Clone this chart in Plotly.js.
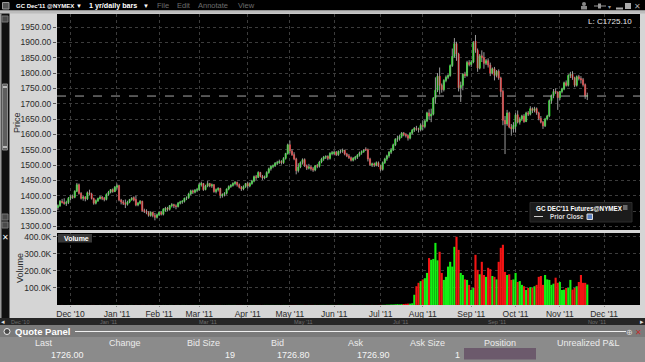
<!DOCTYPE html>
<html><head><meta charset="utf-8">
<script src="https://cdn.plot.ly/plotly-3.0.1.min.js"></script>
<style>html,body{margin:0;padding:0;background:#d4d4d4;overflow:hidden}#chart{width:645px;height:362px}</style>
</head><body><div id="chart"></div>
<script>
// ---------- DATA (GC Dec'11 @NYMEX, 1 yr daily bars) ----------
const firstDay = '2010-11-22';
const lastDay = '2011-11-18';
const holidays = ['2010-11-25','2010-12-24','2011-01-17','2011-02-21','2011-04-22','2011-05-30','2011-07-04','2011-09-05','2011-11-24'];

const openP = [
 1362,1368,1382,1379,1375,1378,
 1392,1398,1395,1415,1436,1408,1392,1396,1390,1410,1406,1391,1376,1384,1391,1396,1392,1388,1404,1412,1420,1414,
 1428,1433,1386,1380,1376,1372,1380,1388,1394,1388,1370,1376,1382,1352,1350,1346,1336,1346,1336,1330,
 1338,1346,1340,1352,1360,1356,1368,1371,1367,1365,1376,1380,1382,1392,1394,1406,1416,1412,1418,
 1420,1436,1440,1420,1432,1440,1432,1436,1414,1420,1424,1400,1404,1408,1422,1430,1434,1440,1444,1436,1428,1422,1430,
 1440,1432,1440,1448,1462,1460,1476,1464,1458,1462,1476,1488,1496,1498,1506,1508,1512,1508,1522,1538,
 1566,1546,1534,1520,1482,1494,1508,1518,1498,1490,1494,1488,1484,1498,1496,1510,1520,1526,1528,1522,1538,
 1538,1542,1534,1544,1546,1548,1536,1530,1524,1516,1522,1526,1532,1540,1544,1552,1550,1520,1500,1504,1500,1508,
 1498,1486,1508,1520,1530,1542,1550,1566,1584,1586,1594,1604,1600,1596,1588,1604,1614,1620,1618,1616,
 1630,1626,1644,1670,1660,1666,1718,1744,1790,1760,1746,1776,1786,1792,1824,1854,1896,1862,1752,1760,1796,1792,1834,
 1828,1836,1904,1874,1816,1856,1850,1832,1840,1826,1800,1814,1792,1806,1784,1740,1646,1634,1670,1624,1618,
 1626,1664,1640,1650,1660,1642,1670,1666,1684,1678,1684,1670,1652,1640,1628,1650,1660,1710,1726,1740,1738,
 1720,1740,1748,1768,1760,1792,1796,1784,1760,1788,1782,1778,1762,1725
];
const highP = [
 1372,1386,1390,1392,1384,1396,
 1402,1404,1418,1442,1440,1412,1400,1399,1414,1420,1410,1394,1388,1394,1400,1399,1396,1408,1416,1422,1424,1432,
 1440,1436,1390,1386,1388,1384,1390,1396,1398,1400,1380,1386,1384,1358,1356,1350,1350,1348,1344,1342,
 1350,1350,1360,1364,1364,1370,1376,1374,1372,1380,1384,1386,1394,1398,1410,1420,1420,1422,1426,
 1442,1446,1442,1436,1448,1442,1440,1438,1424,1428,1426,1408,1412,1424,1434,1438,1444,1448,1446,1440,1432,1434,1442,
 1446,1444,1452,1466,1468,1480,1478,1468,1466,1480,1492,1500,1502,1510,1514,1518,1516,1526,1540,1570,
 1580,1552,1542,1524,1506,1512,1522,1522,1502,1504,1498,1494,1500,1504,1514,1524,1530,1532,1532,1542,1546,
 1548,1546,1548,1550,1554,1550,1540,1536,1528,1526,1530,1536,1544,1548,1552,1558,1554,1524,1508,1508,1512,1512,
 1500,1512,1524,1534,1546,1556,1570,1588,1596,1598,1608,1608,1604,1600,1608,1618,1624,1628,1622,1636,
 1646,1648,1674,1682,1684,1722,1786,1800,1818,1766,1780,1792,1796,1828,1880,1914,1902,1866,1772,1800,1804,1840,1842,
 1842,1904,1924,1880,1862,1874,1868,1846,1848,1834,1818,1820,1810,1812,1788,1746,1660,1680,1674,1634,1640,
 1670,1678,1656,1664,1666,1674,1676,1692,1688,1690,1688,1674,1660,1644,1654,1664,1714,1730,1748,1750,1740,
 1742,1752,1772,1776,1796,1804,1806,1788,1792,1794,1790,1784,1766,1736
];
const lowP = [
 1354,1364,1375,1371,1367,1373,
 1386,1390,1392,1412,1404,1388,1384,1382,1386,1402,1388,1371,1372,1380,1388,1386,1382,1385,1400,1408,1410,1412,
 1420,1382,1372,1370,1360,1368,1376,1384,1382,1366,1366,1372,1348,1344,1340,1332,1332,1330,1320,1326,
 1334,1336,1336,1348,1350,1352,1362,1360,1356,1362,1372,1374,1378,1386,1390,1402,1406,1408,1412,
 1416,1430,1416,1418,1428,1428,1426,1410,1408,1414,1392,1394,1398,1404,1418,1426,1430,1434,1430,1424,1416,1418,1426,
 1424,1428,1436,1444,1452,1458,1460,1452,1454,1458,1472,1482,1490,1494,1500,1504,1502,1504,1518,1534,
 1538,1530,1516,1470,1476,1490,1502,1494,1484,1486,1482,1478,1480,1490,1492,1506,1514,1520,1516,1518,1532,
 1532,1530,1530,1538,1540,1532,1526,1520,1512,1512,1516,1520,1528,1534,1540,1546,1512,1498,1494,1494,1496,1494,
 1480,1482,1504,1514,1524,1536,1546,1562,1576,1580,1588,1594,1590,1580,1584,1600,1608,1612,1606,1610,
 1614,1620,1640,1648,1640,1662,1700,1738,1730,1736,1740,1770,1780,1788,1820,1850,1840,1740,1706,1744,1784,1788,1822,
 1820,1832,1866,1804,1812,1836,1814,1826,1818,1790,1796,1776,1786,1778,1722,1630,1536,1628,1620,1596,1606,
 1606,1636,1632,1644,1638,1640,1660,1662,1670,1672,1664,1646,1636,1618,1624,1646,1656,1700,1718,1732,1680,
 1712,1734,1744,1756,1756,1784,1778,1754,1756,1776,1766,1756,1716,1712
];
const closeP = [
 1368,1382,1379,1375,1378,1392,
 1398,1395,1415,1436,1408,1392,1396,1390,1410,1406,1391,1376,1384,1391,1396,1392,1388,1404,1412,1420,1414,1428,
 1433,1386,1380,1376,1372,1380,1388,1392,1386,1370,1376,1382,1352,1350,1346,1336,1346,1336,1330,1338,
 1346,1340,1356,1360,1356,1368,1371,1367,1365,1376,1380,1382,1392,1394,1406,1416,1412,1418,1420,
 1436,1440,1420,1432,1440,1432,1436,1414,1420,1424,1402,1404,1408,1422,1430,1434,1440,1444,1436,1428,1422,1430,1440,
 1432,1440,1448,1462,1460,1476,1464,1458,1462,1476,1488,1496,1498,1506,1508,1512,1508,1522,1538,1566,
 1546,1534,1520,1482,1494,1508,1518,1498,1490,1494,1488,1484,1498,1496,1510,1520,1526,1528,1522,1538,1540,
 1542,1534,1544,1546,1548,1536,1530,1524,1516,1522,1526,1532,1540,1544,1548,1550,1520,1502,1504,1500,1508,1498,
 1486,1508,1520,1530,1542,1550,1566,1584,1586,1594,1604,1600,1596,1588,1604,1614,1620,1618,1616,1630,
 1626,1644,1670,1660,1666,1718,1744,1790,1760,1746,1776,1786,1792,1824,1854,1896,1862,1752,1760,1796,1792,1834,1828,
 1836,1900,1874,1816,1856,1850,1832,1840,1826,1800,1814,1792,1806,1784,1740,1646,1634,1670,1624,1618,1630,
 1664,1640,1650,1660,1642,1670,1666,1684,1678,1684,1670,1652,1640,1628,1650,1660,1710,1726,1740,1738,1720,
 1740,1748,1768,1760,1792,1796,1784,1760,1788,1782,1778,1762,1725,1726
];
// volume in thousands of contracts
const volumeK = [
 0.2,0.2,0.3,0.2,0.2,0.3,
 0.2,0.3,0.2,0.3,0.3,0.2,0.2,0.3,0.2,0.2,0.3,0.3,0.2,0.2,0.3,0.2,0.2,0.2,0.3,0.2,0.2,0.3,
 0.3,0.3,0.2,0.2,0.3,0.2,0.3,0.3,0.2,0.3,0.2,0.2,0.3,0.3,0.2,0.3,0.3,0.2,0.3,0.3,
 0.3,0.2,0.3,0.3,0.2,0.3,0.3,0.2,0.3,0.3,0.2,0.3,0.3,0.3,0.2,0.3,0.3,0.3,0.3,
 0.3,0.3,0.4,0.3,0.3,0.4,0.3,0.3,0.4,0.3,0.4,0.3,0.3,0.3,0.4,0.3,0.3,0.4,0.3,0.3,0.4,0.3,0.3,
 0.3,0.4,0.3,0.4,0.4,0.3,0.4,0.3,0.4,0.4,0.3,0.4,0.4,0.3,0.4,0.4,0.3,0.4,0.4,0.4,
 0.5,0.4,0.4,0.5,0.4,0.4,0.4,0.5,0.4,0.4,0.4,0.4,0.5,0.4,0.4,0.4,0.5,0.4,0.4,0.4,0.5,
 0.4,0.4,0.5,0.4,0.4,0.5,0.4,0.4,0.4,0.5,0.4,0.4,0.5,0.4,0.4,0.5,0.4,0.4,0.5,0.4,0.4,0.5,
 1,1,1,2,2,3,3,4,5,4,5,6,7,8,8,10,60,110,130,140,
 150,157,188,275,265,270,364,262,312,188,147,165,225,253,225,341,400,323,188,176,150,147,118,
 88,100,294,206,180,253,176,165,218,210,170,165,150,253,335,353,194,176,180,147,150,
 188,135,140,118,110,88,100,105,100,110,118,165,170,118,176,150,147,118,125,160,130,
 135,88,90,100,100,147,90,100,110,135,176,130,130,120
];
const priorClose = 1725.10;
const lastPrice = '1726.00', bidSize = '19', bidPrice = '1726.80', askPrice = '1726.90', askSize = '1';
const monthTicks = ['2010-12-01','2011-01-03','2011-02-01','2011-03-01','2011-04-01','2011-05-02','2011-06-01','2011-07-01','2011-08-01','2011-09-01','2011-10-03','2011-11-01','2011-12-01'];
const monthLabels = ["Dec '10","Jan '11","Feb '11","Mar '11","Apr '11","May '11","Jun '11","Jul '11","Aug '11","Sep '11","Oct '11","Nov '11","Dec '11"];
const priceTicks = [1300,1350,1400,1450,1500,1550,1600,1650,1700,1750,1800,1850,1900,1950];
const volTicks = [100,200,300,400];
const volTickText = ['100.0K','200.0K','300.0K','400.0K'];
const quoteHeaders = ['Last','Change','Bid Size','Bid','Ask','Ask Size','Position','Unrealized P&L'];
const navLabels = ["Dec '10","Jan '11","Mar '11","May '11","Jul '11","Sep '11","Nov '11"];

// ---------- trading calendar ----------
function tradingDays(a, b, hol) {
  const out = []; let d = new Date(a + 'T00:00:00Z'); const end = new Date(b + 'T00:00:00Z');
  while (d <= end) { const w = d.getUTCDay(); const s = d.toISOString().slice(0,10);
    if (w !== 0 && w !== 6 && hol.indexOf(s) < 0) out.push(s); d = new Date(d.getTime() + 86400000); }
  return out;
}
const dates = tradingDays(firstDay, lastDay, holidays);
const bodyHi = openP.map((o,i) => Math.max(o, closeP[i]));
const bodyLo = openP.map((o,i) => Math.min(o, closeP[i]));
const GREEN = '#14f014', RED = '#f41414';
const volColors = openP.map((o,i) => closeP[i] >= o ? GREEN : RED);

// ---------- geometry helpers (pixels -> paper) ----------
const W = 645, H = 362;
const fx = x => x / W, fy = y => 1 - y / H;
const FONT = 'Liberation Sans, Arial, sans-serif';
function rect(x0,y0,x1,y1,fill,lineColor,extra){
  return Object.assign({type:'rect',xref:'paper',yref:'paper',x0:fx(x0),x1:fx(x1),y0:fy(y1),y1:fy(y0),
    fillcolor:fill,line:{width:lineColor?1:0,color:lineColor||fill},layer:'above'}, extra||{});
}
function hline(x0,x1,y,color,w,dash){
  return {type:'line',xref:'paper',yref:'paper',x0:fx(x0),x1:fx(x1),y0:fy(y),y1:fy(y),line:{color:color,width:w||1,dash:dash||'solid'},layer:'above'};
}
function txt(t,x,y,size,color,anchor,extra){
  return Object.assign({text:t,xref:'paper',yref:'paper',x:fx(x),y:fy(y),showarrow:false,xanchor:anchor||'center',yanchor:'middle',
    font:{family:FONT,size:size,color:color}}, extra||{});
}

const rbreaks = [{bounds:['sat','mon']},{values:holidays}];
const xRange = ['2010-11-19 14:00','2011-12-26 00:00'];
const xDom = [fx(57), fx(640)];

const traces = [
  {type:'ohlc', x:dates, open:openP, high:highP, low:lowP, close:closeP, tickwidth:0, xaxis:'x', yaxis:'y',
   increasing:{line:{color:'#9a9a9a',width:1}}, decreasing:{line:{color:'#9a9a9a',width:1}}, hoverinfo:'skip'},
  {type:'candlestick', x:dates, open:openP, high:bodyHi, low:bodyLo, close:closeP, xaxis:'x', yaxis:'y', whiskerwidth:0,
   increasing:{line:{color:GREEN,width:1}, fillcolor:GREEN}, decreasing:{line:{color:RED,width:1}, fillcolor:RED}, hoverinfo:'skip'},
  {type:'bar', x:dates, y:volumeK, xaxis:'x2', yaxis:'y2', width:86400000, marker:{color:volColors,line:{width:0}}, hoverinfo:'skip'}
];

const gridCol = '#3c3c3c';
const layout = {
  width:W, height:H, margin:{l:0,r:0,t:0,b:0}, paper_bgcolor:'#d5d5d5', plot_bgcolor:'#000', showlegend:false,
  font:{family:FONT,size:9,color:'#2a2a2a'},
  xaxis:{domain:xDom, anchor:'y', type:'date', range:xRange, rangebreaks:rbreaks, rangeslider:{visible:false},
    tickmode:'array', tickvals:monthTicks, ticktext:monthLabels, showticklabels:false, ticks:'',
    showgrid:true, gridcolor:gridCol, griddash:'dot', gridwidth:1, zeroline:false, showline:false, fixedrange:true},
  yaxis:{domain:[fy(230), fy(14)], anchor:'x', range:[1288.6,1992.4], tickmode:'array', tickvals:priceTicks,
    ticktext:priceTicks.map(v=>v.toFixed(2)), ticks:'outside', ticklen:3, tickcolor:'#555',
    tickfont:{family:FONT,size:8.5,color:'#2a2a2a'}, showgrid:true, gridcolor:gridCol, griddash:'dot', zeroline:false, showline:false, fixedrange:true},
  xaxis2:{domain:xDom, anchor:'y2', type:'date', range:xRange, rangebreaks:rbreaks,
    tickmode:'array', tickvals:monthTicks, ticktext:monthLabels, ticks:'outside', ticklen:1, tickcolor:'#888',
    tickfont:{family:FONT,size:8.5,color:'#2a2a2a'}, showgrid:true, gridcolor:gridCol, griddash:'dot', zeroline:false, showline:false, fixedrange:true},
  yaxis2:{domain:[fy(305), fy(233)], anchor:'x2', range:[0,422], tickmode:'array', tickvals:volTicks, ticktext:volTickText,
    ticks:'outside', ticklen:3, tickcolor:'#555', tickfont:{family:FONT,size:8.5,color:'#2a2a2a'},
    showgrid:true, gridcolor:gridCol, griddash:'dot', zeroline:false, showline:false, fixedrange:true},
  shapes:[
    {type:'line', xref:'paper', yref:'y', x0:xDom[0], x1:xDom[1], y0:priorClose, y1:priorClose, line:{color:'#a6a6a6',width:1,dash:'dash'}, layer:'above'},
    rect(0,0,645,10.5,'#000'),
    rect(0,10.5,645,13.5,'#bcbcbc'),
    rect(2.5,2.5,9,9,'#555','#999'),
    rect(0,13.5,9.5,318,'#101010'),
    rect(0,13.5,1.5,318,'#9a9a9a'),
    rect(2,16,8,22,'#4a4a4a','#777'),
    rect(2.5,84,7.5,150,'#5e5e5e','#8a8a8a'),
    rect(3,86,7,88,'#bbb'), rect(3,146,7,148,'#bbb'),
    rect(2,214,8,220,'#4a4a4a','#777'), rect(2,222,8,228,'#4a4a4a','#777'),
    rect(530,202.5,632,222,'#1b1b1b','#2c2c2c'),
    {type:'line',xref:'paper',yref:'paper',x0:fx(534),x1:fx(544),y0:fy(216.5),y1:fy(216.5),line:{color:'#cfcfcf',width:1,dash:'dash'},layer:'above'},
    rect(587,214,592.5,219.5,'#5a7fc0','#dddddd'),
    rect(623,205,627.5,210,'#6a6a6a'),
    rect(58,234,92,242.5,'#3a3a3a'),
    rect(0,318,645,325,'#262626'),
    rect(0,325,645,337,'#7a7a7a'),
    rect(0,337,645,362,'#8b8b8b'),
    hline(75,626,331.5,'#f0f0f0',1),
    {type:'circle',xref:'paper',yref:'paper',x0:fx(4),x1:fx(10),y0:fy(334.5),y1:fy(328.5),fillcolor:'#4a4a4a',line:{color:'#eee',width:1},layer:'above'},
    rect(464,348,536,359.5,'#6c5a6c'),
    {type:'circle',xref:'paper',yref:'paper',x0:fx(582),x1:fx(586),y0:fy(6),y1:fy(2),fillcolor:'#888',line:{width:0},layer:'above'},
    rect(581,6,587,9.5,'#888'),
    hline(594,606,6,'#999',1),
    rect(598,3.5,601,8.5,'#999'),
    hline(616,623,8.5,'#aaa',2),
    rect(625,3,631,9,'#aaa')
  ],
  annotations:[
    txt("<b>GC Dec'11 @NYMEX</b>",14,6,6,'#ffffff','left'),
    txt('▼',79,6,6,'#ffffff','center'),
    txt("<b>1 yr/daily bars</b>",87,6,7.2,'#ffffff','left'),
    txt('▼',146,6,6,'#ffffff','center'),
    txt('File',155,6,7.5,'#6d6d6d','left'),
    txt('Edit',175,6,7.5,'#6d6d6d','left'),
    txt('Annotate',196,6,7.5,'#6d6d6d','left'),
    txt('View',236,6,7.5,'#6d6d6d','left'),
    txt('▾',609,6.5,6,'#999','center'),
    txt('✕',637,6.5,8,'#aaa','center'),
    txt('L: C' + priorClose.toFixed(2),634,21.5,8,'#e8e8e8','right'),
    txt("<b>GC DEC'11 Futures@NYMEX</b>",534,208,6.3,'#ffffff','left'),
    txt('<b>Prior Close</b>',548,216.8,6.3,'#dcdcdc','left'),
    txt('<b>Volume</b>',62,238.5,7,'#ffffff','left'),
    txt('Price',17,123,9,'#2a2a2a','center',{textangle:-90}),
    txt('Volume',20,268,9,'#2a2a2a','center',{textangle:-90}),
    txt('✕',5,237.5,8,'#ffffff','center'),
    txt('◂',3,321.5,7,'#dddddd','center'),
    txt('▸',642,321.5,7,'#dddddd','center'),
    txt('<b>Quote Panel</b>',13,331.5,9.5,'#ffffff','left'),
    txt('✕',638,332,8,'#c03030','center'),
    txt('⊕',629,332,8,'#dddddd','center')
  ]
};
const navX = [20,108,208,303,400,497,597];
navLabels.forEach((t,i)=>layout.annotations.push(txt(t,navX[i],322,5.5,'#6f6f6f','center')));
const headX = [44,125,203,277,356,427,500,588];
quoteHeaders.forEach((t,i)=>layout.annotations.push(txt(t,headX[i],342.8,9,'#ececec','center')));
layout.annotations.push(txt(lastPrice,67,354.5,9,'#f4f4f4','center'));
layout.annotations.push(txt(bidSize,237,354.5,9,'#f4f4f4','right'));
layout.annotations.push(txt(bidPrice,293,354.5,9,'#f4f4f4','center'));
layout.annotations.push(txt(askPrice,373,354.5,9,'#f4f4f4','center'));
layout.annotations.push(txt(askSize,462,354.5,9,'#f4f4f4','right'));

Plotly.newPlot('chart', traces, layout, {displayModeBar:false, staticPlot:true});
</script></body></html>
